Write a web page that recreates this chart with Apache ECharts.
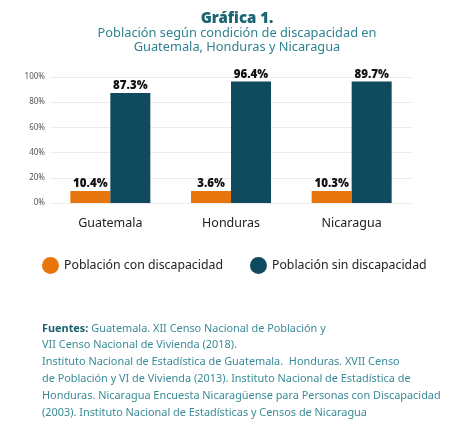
<!DOCTYPE html>
<html>
<head>
<meta charset="utf-8">
<script src="https://cdn.jsdelivr.net/npm/echarts@6/dist/echarts.min.js"></script>
<style>
html,body{margin:0;padding:0;background:#fff;}
#chart{width:474px;height:443px;}
</style>
</head>
<body>
<div id="chart"></div>
<script>
var categories = ['Guatemala', 'Honduras', 'Nicaragua'];
var seriesNames = ['Población con discapacidad', 'Población sin discapacidad'];
// bar heights as drawn in the reference
var conHeights = [9.6, 9.6, 9.6];
var sinHeights = [87.3, 96.4, 96.4];
// value labels as printed in the reference
var conLabels = ['10.4%', '3.6%', '10.3%'];
var sinLabels = ['87.3%', '96.4%', '89.7%'];
var yTicks = [0, 20, 40, 60, 80, 100];

var FONT = 'Noto Sans';
var chart = echarts.init(document.getElementById('chart'));

function mk(vals, labels) {
  return vals.map(function (v, i) { return { value: v, label: { formatter: labels[i] } }; });
}

var labelStyle = {
  show: true, position: 'top', distance: 1,
  fontFamily: FONT, fontSize: 11.5, fontWeight: 900, color: '#111'
};

chart.setOption({
  animation: false,
  title: [{
    text: 'Gráfica 1.',
    left: 'center', top: 6,
    textStyle: { fontFamily: FONT, fontSize: 15, fontWeight: 900, color: '#1a6472' }
  }, {
    text: 'Población según condición de discapacidad en\nGuatemala, Honduras y Nicaragua',
    left: 'center', top: 21,
    textStyle: { fontFamily: FONT, fontSize: 12.8, fontWeight: 'normal', color: '#2f8290', lineHeight: 14.5, align: 'center' }
  }],
  legend: {
    left: 37, top: 252,
    icon: 'circle', itemWidth: 17, itemHeight: 17, itemGap: 27,
    textStyle: { fontFamily: FONT, fontSize: 12.3, color: '#222' },
    data: seriesNames
  },
  grid: { left: 50, width: 362, top: 77, bottom: 240 },
  xAxis: {
    type: 'category', data: categories,
    axisLine: { show: false }, axisTick: { show: false },
    axisLabel: { margin: 14, fontFamily: FONT, fontSize: 12.5, color: '#222' }
  },
  yAxis: {
    type: 'value', min: 0, max: 100, interval: 20,
    axisLine: { show: false }, axisTick: { show: false },
    axisLabel: {
      margin: 5, fontFamily: FONT, fontSize: 8, color: '#555',
      formatter: function (v) { return yTicks.indexOf(v) >= 0 ? v + '%' : ''; }
    },
    splitLine: { lineStyle: { color: '#ececec', width: 1 } }
  },
  series: [{
    name: seriesNames[0], type: 'bar', barWidth: 40, barGap: '0%',
    itemStyle: { color: '#e8760e' },
    label: labelStyle,
    data: mk(conHeights, conLabels)
  }, {
    name: seriesNames[1], type: 'bar', barWidth: 40, barGap: '0%',
    itemStyle: { color: '#0f4a5f' },
    label: labelStyle,
    data: mk(sinHeights, sinLabels)
  }],
  graphic: [{
    type: 'text', left: 42, top: 320,
    style: {
      text: '{b|Fuentes:} Guatemala. XII Censo Nacional de Población y\n' +
            'VII Censo Nacional de Vivienda (2018).\n' +
            'Instituto Nacional de Estadística de Guatemala.  Honduras. XVII Censo\n' +
            'de Población y VI de Vivienda (2013). Instituto Nacional de Estadística de\n' +
            'Honduras. Nicaragua Encuesta Nicaragüense para Personas con Discapacidad\n' +
            '(2003). Instituto Nacional de Estadísticas y Censos de Nicaragua',
      fontFamily: FONT, fontSize: 10.9, fill: '#3a8b98', lineHeight: 16.8,
      rich: {
        b: { fontFamily: FONT, fontSize: 10.9, fontWeight: 'bold', fill: '#1a5f6e', lineHeight: 16.8 }
      }
    }
  }]
});
</script>
</body>
</html>
